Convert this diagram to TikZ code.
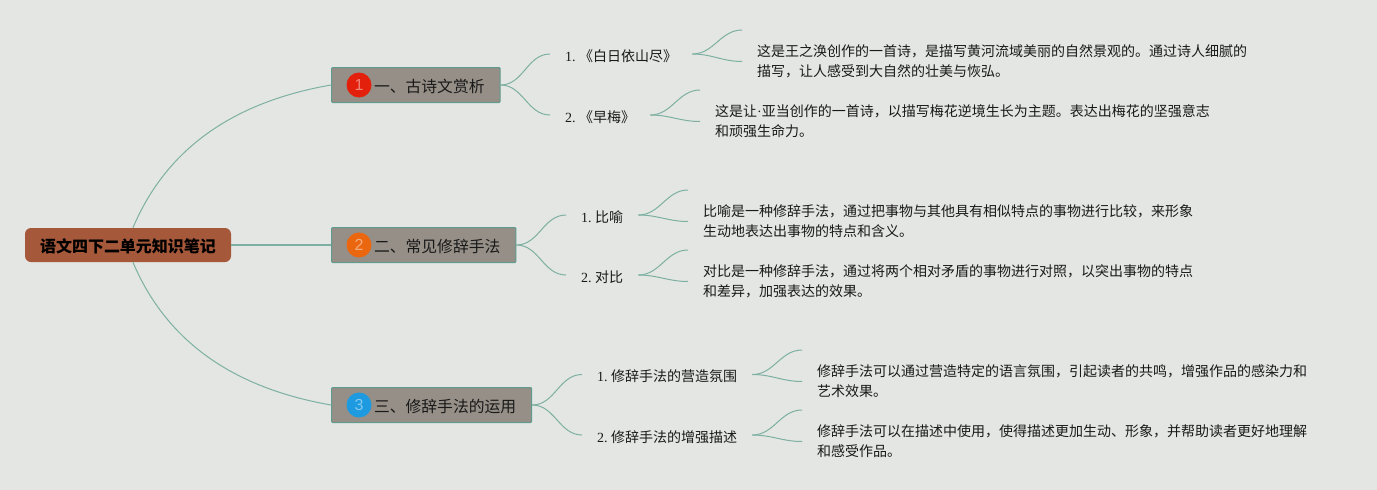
\documentclass[tikz,border=0pt]{standalone}
\usepackage{fontspec}
\setmainfont{Liberation Serif}
\setsansfont{Liberation Sans}
\newfontfamily\cjkfont{Noto Sans CJK SC}
\usetikzlibrary{positioning, calc}
\definecolor{notepaper}{RGB}{227, 230, 227}
\definecolor{notegreen}{RGB}{125, 176, 162}
\definecolor{noteborder}{RGB}{95, 156, 142}
\definecolor{notegray}{RGB}{149, 143, 135}
\definecolor{notebrown}{RGB}{165, 88, 58}
\definecolor{notetext}{RGB}{25, 25, 25}
\definecolor{badgered}{RGB}{227, 32, 11}
\definecolor{badgeorange}{RGB}{235, 103, 15}
\definecolor{badgeblue}{RGB}{30, 155, 224}
\tikzset{
  rootbox/.style={
    fill=notebrown,
    rounded corners=6pt,
    minimum width=206pt,
    minimum height=34pt,
    inner sep=0pt,
    text=black,
    text height=15pt,
    text depth=1pt,
    font=\fontsize{16}{20}\selectfont\cjkfont\bfseries
  },
  topicbox/.style={
    draw=noteborder,
    line width=1pt,
    fill=notegray,
    rounded corners=1pt,
    anchor=west,
    minimum height=35pt,
    inner xsep=15.5pt,
    inner ysep=0pt,
    text=notetext,
    text height=14.9pt,
    text depth=0.9pt,
    font=\fontsize{15.8}{20}\selectfont\cjkfont
  },
  badge/.style={
    circle,
    minimum size=25pt,
    inner sep=0pt,
    text=white,
    text opacity=0.45,
    font=\fontsize{16}{20}\selectfont\sffamily
  },
  subtopic/.style={
    anchor=west,
    inner xsep=15pt,
    inner ysep=2pt,
    text=notetext,
    text height=14.6pt,
    text depth=0pt,
    font=\fontsize{14}{20}\selectfont
  },
  detail/.style={
    anchor=west,
    align=left,
    inner xsep=15pt,
    inner ysep=2pt,
    text=notetext,
    font=\fontsize{14}{20.2}\selectfont\cjkfont
  },
  every edge/.style={
    draw=notegreen,
    line width=1pt,
    out=0,
    in=180
  }
}
\newcommand{\subnum}[2]{#1.\hspace{3.5pt}{\cjkfont #2}}

\begin{document}
\begin{tikzpicture}[x=1pt, y=-1pt]
  \fill[notepaper] (0,0) rectangle (1377,490);
  \useasboundingbox (0,0) rectangle (1377,490);

  \node[rootbox] (root) at (128,245) {语文四下二单元知识笔记};
  \node[topicbox] (topic1) at (331,85) {\hspace*{27pt}一、古诗文赏析};
  \node[topicbox] (topic2) at (331,245) {\hspace*{27pt}二、常见修辞手法};
  \node[topicbox] (topic3) at (331,405) {\hspace*{27pt}三、修辞手法的运用};

  \node[badge, fill=badgered] (badge1) at (359,85) {1};
  \node[badge, fill=badgeorange] (badge2) at (359,245) {2};
  \node[badge, fill=badgeblue] (badge3) at (359,405) {3};

  \node[subtopic] (sub1) at (550,54) {\subnum{1}{《白日依山尽》}};
  \node[subtopic] (sub2) at (550,115) {\subnum{2}{《早梅》}};
  \node[subtopic] (sub3) at (566,215) {\subnum{1}{比喻}};
  \node[subtopic] (sub4) at (566,275) {\subnum{2}{对比}};
  \node[subtopic] (sub5) at (582,374.5) {\subnum{1}{修辞手法的营造氛围}};
  \node[subtopic] (sub6) at (582,435) {\subnum{2}{修辞手法的增强描述}};

  \node[detail] (note1) at (742,61.5) {这是王之涣创作的一首诗，是描写黄河流域美丽的自然景观的。通过诗人细腻的\\描写，让人感受到大自然的壮美与恢弘。};
  \node[detail] (note2) at (700,121.5) {这是让{\rmfamily ·}亚当创作的一首诗，以描写梅花逆境生长为主题。表达出梅花的坚强意志\\和顽强生命力。};
  \node[detail] (note3) at (688,221.5) {比喻是一种修辞手法，通过把事物与其他具有相似特点的事物进行比较，来形象\\生动地表达出事物的特点和含义。};
  \node[detail] (note4) at (688,281.5) {对比是一种修辞手法，通过将两个相对矛盾的事物进行对照，以突出事物的特点\\和差异，加强表达的效果。};
  \node[detail] (note5) at (802,381.5) {修辞手法可以通过营造特定的语言氛围，引起读者的共鸣，增强作品的感染力和\\艺术效果。};
  \node[detail] (note6) at (802,441.5) {修辞手法可以在描述中使用，使得描述更加生动、形象，并帮助读者更好地理解\\和感受作品。};

  \coordinate (tip1) at (742,30);
  \coordinate (tip2) at (700,90);
  \coordinate (tip3) at (688,190);
  \coordinate (tip4) at (688,250);
  \coordinate (tip5) at (802,350);
  \coordinate (tip6) at (802,410);

  \draw[notegreen, line width=1pt] (root.74) .. controls (170,140) and (245,100) .. (topic1.west);
  \draw[notegreen, line width=1pt] (root.-74) .. controls (170,350) and (245,390) .. (topic3.west);
  \draw[notegreen, line width=1.4pt] (root.east) -- (topic2.west);

  \path (topic1.east) edge (sub1.west)
        (topic1.east) edge (sub2.west)
        (topic2.east) edge (sub3.west)
        (topic2.east) edge (sub4.west)
        (topic3.east) edge (sub5.west)
        (topic3.east) edge (sub6.west);

  \path (sub1.east) edge (tip1)
        (sub1.east) edge (note1.west)
        (sub2.east) edge (tip2)
        (sub2.east) edge (note2.west)
        (sub3.east) edge (tip3)
        (sub3.east) edge (note3.west)
        (sub4.east) edge (tip4)
        (sub4.east) edge (note4.west)
        (sub5.east) edge (tip5)
        (sub5.east) edge (note5.west)
        (sub6.east) edge (tip6)
        (sub6.east) edge (note6.west);
\end{tikzpicture}
\end{document}
